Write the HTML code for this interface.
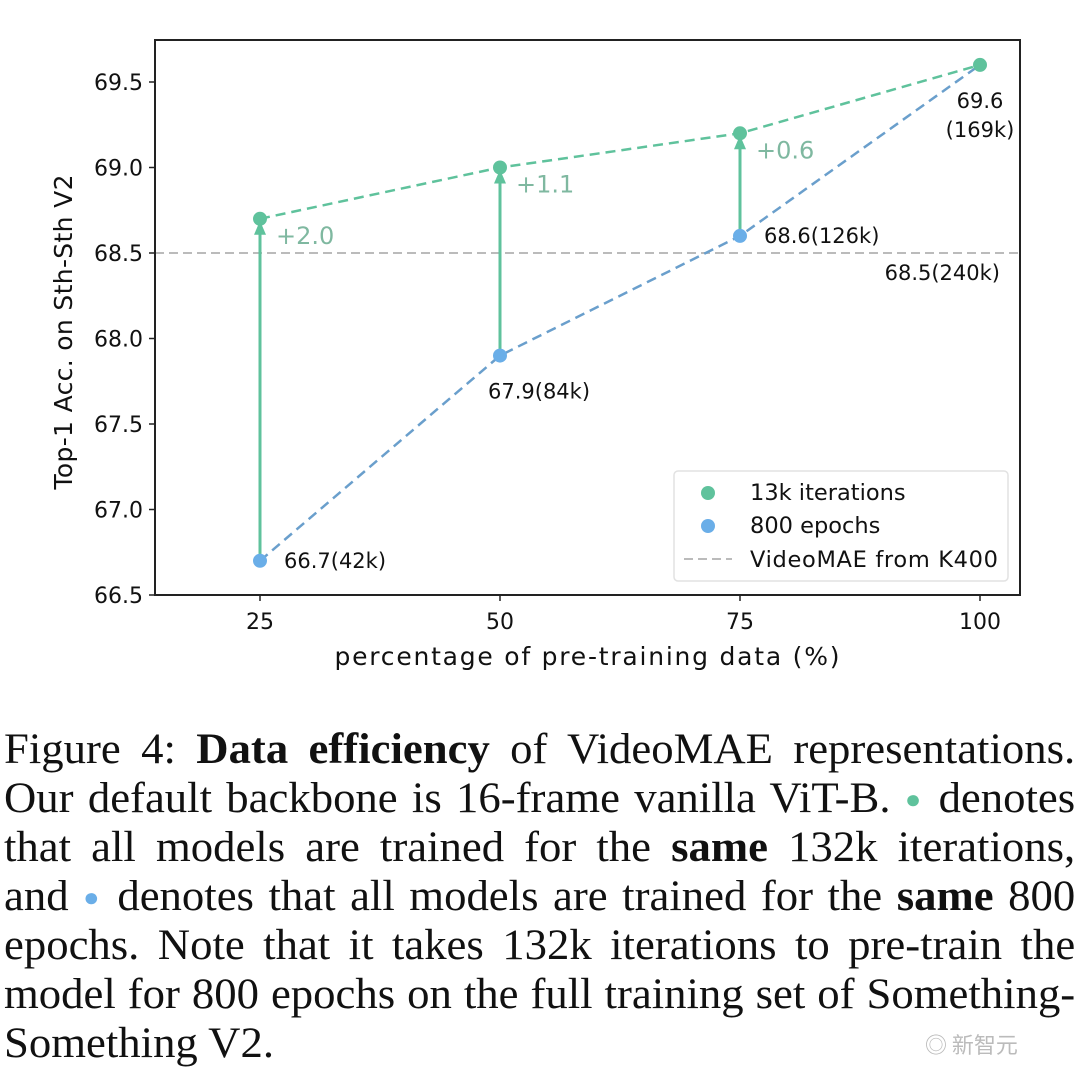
<!DOCTYPE html>
<html><head><meta charset="utf-8"><style>
body{margin:0;background:#fff;width:1080px;height:1088px;overflow:hidden}
.cap{position:absolute;left:4px;top:725px;width:1030px;font-family:"Liberation Serif",serif;font-size:43px;line-height:49px;color:#111;white-space:nowrap;transform:scaleX(1.04);transform-origin:0 0}
.cap div{text-align:justify;text-align-last:justify;height:49px}
.cap div.last{text-align-last:left}
.dot{font-size:26px;vertical-align:4px}
</style></head><body>
<svg id="chart" width="1080" height="700" style="position:absolute;left:0;top:0" font-family="DejaVu Sans, Liberation Sans, sans-serif"></svg>
<div class="cap">
<div>Figure 4: <b>Data efficiency</b> of VideoMAE representations.</div>
<div>Our default backbone is 16-frame vanilla ViT-B. <span class="dot" style="color:#5fc29c">●</span> denotes</div>
<div>that all models are trained for the <b>same</b> 132k iterations,</div>
<div>and <span class="dot" style="color:#6aaee8">●</span> denotes that all models are trained for the <b>same</b> 800</div>
<div>epochs. Note that it takes 132k iterations to pre-train the</div>
<div>model for 800 epochs on the full training set of Something-</div>
<div class="last">Something V2.</div>
</div>
<div style="position:absolute;left:925px;top:1028px;font-family:'Noto Sans CJK SC',sans-serif;font-size:22px;color:#bbb">◎ 新智元</div>
<script>
const categories=[25,50,75,100];
const iterVals=[68.7,69.0,69.2,69.6];
const epochVals=[66.7,67.9,68.6,69.6];
const baseline=68.5;
const yTicks=[66.5,67.0,67.5,68.0,68.5,69.0,69.5];
const gainLabels=["+2.0","+1.1","+0.6"];
const epochLabels=["66.7(42k)","67.9(84k)","68.6(126k)"];
const NS="http://www.w3.org/2000/svg";
const svg=document.getElementById('chart');
const L=155,R=1020,T=40,B=595;
const x=v=>260+(v-25)*9.6;
const y=v=>595-(v-66.5)*171;
function mk(t,a,txt){const e=document.createElementNS(NS,t);for(const k in a)e.setAttribute(k,a[k]);if(txt!==undefined)e.textContent=txt;svg.appendChild(e);return e;}
const G="#5fc29c",BL="#6aaee8";
let e;
e=mk('line',{x1:L,x2:R,y1:y(baseline),y2:y(baseline),stroke:'#bbb','stroke-width':2,'stroke-dasharray':'9,5'});

let pts=categories.map((c,i)=>x(c)+','+y(epochVals[i])).join(' ');
e=mk('polyline',{points:pts,fill:'none',stroke:'#6a9fcc','stroke-width':2.5,'stroke-dasharray':'10,6'});

pts=categories.map((c,i)=>x(c)+','+y(iterVals[i])).join(' ');
e=mk('polyline',{points:pts,fill:'none',stroke:G,'stroke-width':2.5,'stroke-dasharray':'10,6'});

for(let i=0;i<3;i++){
 const cx=x(categories[i]);
 e=mk('line',{x1:cx,x2:cx,y1:y(epochVals[i]),y2:y(iterVals[i])+8,stroke:G,'stroke-width':3});
 
 e=mk('polygon',{points:`${cx-6},${y(iterVals[i])+16} ${cx+6},${y(iterVals[i])+16} ${cx},${y(iterVals[i])+2}`,fill:G});
 
 e=mk('text',{x:cx+16,y:y(iterVals[i])+25,'font-size':24,fill:'#7fb8a0'},gainLabels[i]);
 
 e=mk('circle',{cx:cx,cy:y(epochVals[i]),r:7,fill:BL});
 
 const lx=i==1?cx-12:cx+24, ly=i==1?y(epochVals[i])+43:y(epochVals[i])+7;
 e=mk('text',{x:lx,y:ly,'font-size':21,fill:'#111'},epochLabels[i]);
 
}
categories.forEach((c,i)=>{e=mk('circle',{cx:x(c),cy:y(iterVals[i]),r:7,fill:G});
 });
e=mk('text',{x:980,y:y(iterVals[3])+43,'font-size':21,'text-anchor':'middle',fill:'#111'},iterVals[3].toFixed(1));

e=mk('text',{x:980,y:y(iterVals[3])+72,'font-size':21,'text-anchor':'middle',fill:'#111'},'(169k)');

e=mk('text',{x:1000,y:y(baseline)+27,'font-size':21,'text-anchor':'end',fill:'#111'},'68.5(240k)');

e=mk('rect',{x:L,y:T,width:R-L,height:B-T,fill:'none',stroke:'#222','stroke-width':2});

yTicks.forEach(v=>{mk('line',{x1:L-6,x2:L,y1:y(v),y2:y(v),stroke:'#222','stroke-width':1.5});
 e=mk('text',{x:L-12,y:y(v)+8,'font-size':22,'text-anchor':'end',fill:'#111'},v.toFixed(1));
 });
categories.forEach(c=>{mk('line',{x1:x(c),x2:x(c),y1:B,y2:B+6,stroke:'#222','stroke-width':1.5});
 e=mk('text',{x:x(c),y:629,'font-size':22,'text-anchor':'middle',fill:'#111'},String(c));
 });
e=mk('text',{x:587,y:665,'font-size':25,'text-anchor':'middle',fill:'#111','textLength':505},'percentage of pre-training data (%)');

e=mk('text',{x:72,y:332,'font-size':25,'text-anchor':'middle',fill:'#111','textLength':315,transform:'rotate(-90 72 332)'},'Top-1 Acc. on Sth-Sth V2');

e=mk('rect',{x:674,y:471,width:334,height:110,rx:4,fill:'#fff',stroke:'#e2e2e2','stroke-width':1.5});

e=mk('circle',{cx:708,cy:493,r:7,fill:G});
e=mk('text',{x:750,y:500,'font-size':22.5,fill:'#111'},'13k iterations');
e=mk('circle',{cx:708,cy:526,r:7,fill:BL});
e=mk('text',{x:750,y:533,'font-size':22.5,fill:'#111'},'800 epochs');
e=mk('line',{x1:684,x2:732,y1:559,y2:559,stroke:'#bbb','stroke-width':2,'stroke-dasharray':'9,5'});
e=mk('text',{x:750,y:567,'font-size':22.5,fill:'#111','textLength':248},'VideoMAE from K400');
</script>
</body></html>
